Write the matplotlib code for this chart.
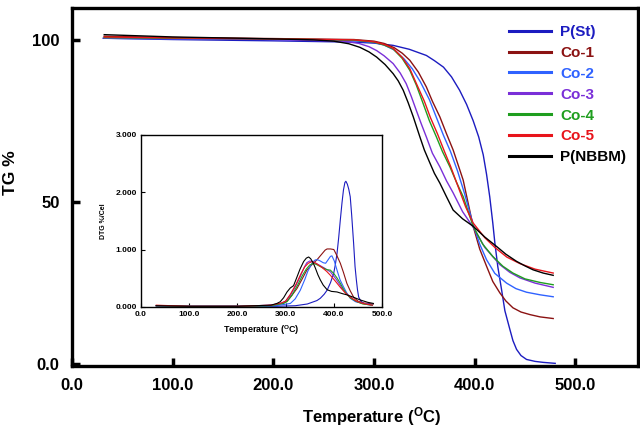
#!/usr/bin/env python3
# -*- coding: utf-8 -*-
"""
TG / DTG curves of P(St), Co-1..Co-5 and P(NBBM)
"""

import matplotlib
matplotlib.use('Agg')
import matplotlib.pyplot as plt
from matplotlib import rcParams

rcParams['font.family'] = ['Liberation Sans', 'DejaVu Sans']
rcParams['font.weight'] = 'bold'
rcParams['mathtext.default'] = 'bf'

# ---- TG data (temperature in C, weight %) ----
names = ['P(St)', 'Co-1', 'Co-2', 'Co-3', 'Co-4', 'Co-5', 'P(NBBM)']
colors = ['#1c1cc0', '#8b1212', '#2f62ff', '#7a2fd8', '#1f9e1f', '#e8141b', '#000000']

tg_t_pst = [31, 100, 200, 280, 300, 319, 335, 352, 360, 369, 377, 385, 392, 398.5,
            404, 408.5, 411.8, 415, 418, 420, 423, 426.7, 430, 435, 438, 441.6, 446,
            451.5, 460, 468, 480]
tg_pst = [100.4, 100.0, 99.6, 99.2, 98.9, 98.2, 97.0, 95.1, 93.5, 91.5, 88.5, 84.4,
          80.0, 75.0, 70.0, 64.5, 58.5, 51.5, 43.5, 37.5, 30.0, 23.0, 16.5, 10.7, 7.3,
          4.6, 2.7, 1.5, 0.9, 0.6, 0.3]

tg_t_co1 = [32, 100, 200, 280, 300, 310, 320, 328, 335.6, 344, 352, 358, 365.4, 372,
            378.6, 384, 388.6, 392, 395, 398.5, 405, 411.8, 418, 425, 431, 438, 446,
            455, 465, 478]
tg_co1 = [101.0, 100.6, 100.3, 100.0, 99.5, 98.8, 97.5, 95.8, 93.6, 90.0, 85.4, 81.0,
          76.2, 71.0, 66.0, 61.0, 56.7, 51.8, 47.5, 42.5, 35.5, 30.2, 25.5, 22.0, 19.5,
          17.4, 16.1, 15.3, 14.6, 14.1]

tg_t_co2 = [32, 100, 200, 280, 300, 310, 320, 330, 338, 346, 355, 362, 369, 376, 383,
            390, 398.5, 405, 411.8, 420, 431.7, 441, 451.5, 465, 478]
tg_co2 = [100.4, 100.2, 100.0, 99.6, 99.1, 98.3, 96.8, 94.0, 91.0, 87.0, 81.5, 76.0,
          70.5, 65.5, 59.5, 52.5, 43.0, 37.0, 32.2, 28.0, 25.0, 23.3, 22.2, 21.4, 20.8]

tg_t_co3 = [32, 100, 200, 270, 285, 295, 302.6, 310, 319, 326, 332, 337, 342, 347,
            352, 358, 365.4, 372, 378.6, 388, 398.5, 410, 425, 435, 445, 460, 478]
tg_co3 = [100.5, 100.3, 100.0, 99.5, 98.8, 97.8, 96.6, 95.0, 92.6, 89.7, 86.4, 82.5,
          78.2, 74.0, 70.0, 65.0, 60.8, 56.5, 52.8, 47.0, 42.2, 36.0, 30.7, 28.3, 26.6,
          25.0, 23.7]

tg_t_co4 = [32, 100, 200, 280, 300, 310, 319, 328, 335.6, 342, 348.8, 355, 362, 368,
            375.4, 382, 388.6, 393, 398.5, 408, 418, 428, 438, 450, 465, 478]
tg_co4 = [100.6, 100.4, 100.2, 99.8, 99.2, 98.3, 97.1, 94.2, 90.5, 86.0, 80.3, 75.0,
          70.0, 65.5, 60.8, 56.0, 51.6, 47.5, 42.5, 37.0, 33.2, 30.2, 28.1, 26.3, 25.2,
          24.5]

tg_t_co5 = [32, 100, 200, 280, 300, 310, 319, 328, 335.6, 342, 350, 356, 363, 370,
            376, 385, 391, 398.5, 410, 420, 432, 445, 460, 478]
tg_co5 = [100.8, 100.5, 100.2, 99.9, 99.3, 98.5, 97.3, 94.5, 91.0, 86.5, 81.0, 76.0,
          71.0, 65.5, 61.0, 53.5, 48.5, 43.5, 39.0, 36.0, 33.0, 31.0, 29.3, 28.1]

tg_t_nbbm = [32, 100, 200, 240, 260, 275, 286, 295, 302.6, 311, 319, 324, 329, 334,
             339, 345.6, 350, 355.5, 360, 365.4, 372, 378.6, 388, 398.5, 410, 421.7,
             431, 441.6, 450, 458, 468, 478]
tg_nbbm = [101.5, 100.8, 100.2, 99.9, 99.5, 98.7, 97.6, 96.2, 94.6, 92.3, 89.5, 87.3,
           84.4, 80.5, 76.2, 70.0, 66.0, 62.0, 58.8, 55.8, 51.6, 47.5, 44.8, 42.5,
           39.2, 36.3, 33.9, 31.7, 30.3, 29.1, 28.1, 27.4]

# ---- DTG data (inset, %/Cel) ----
dtg_t_pst = [32, 100, 200, 280, 320, 345, 365, 372, 380, 386, 393, 399.6, 403, 406.6,
             410, 413.5, 417, 420, 423, 425, 428, 431, 434, 437, 441, 444, 446.7, 449,
             451.5, 456, 462, 470, 480]
dtg_pst = [0.02, 0.01, 0.01, 0.01, 0.02, 0.05, 0.11, 0.15, 0.22, 0.29, 0.42, 0.58,
           0.73, 0.93, 1.20, 1.52, 1.82, 2.04, 2.17, 2.19, 2.14, 2.05, 1.92, 1.60, 1.11,
           0.70, 0.47, 0.30, 0.17, 0.10, 0.06, 0.04, 0.03]

dtg_t_co1 = [32, 100, 200, 260, 280, 295, 303, 313, 323.6, 334, 344, 355, 365, 375,
             382, 386, 393, 400, 406, 413.5, 420, 427, 434, 441, 450, 460, 482]
dtg_co1 = [0.02, 0.01, 0.01, 0.02, 0.04, 0.06, 0.10, 0.20, 0.32, 0.48, 0.64, 0.74,
           0.82, 0.92, 0.99, 1.01, 1.01, 1.00, 0.90, 0.76, 0.60, 0.41, 0.28, 0.17, 0.10,
           0.07, 0.05]

dtg_t_co2 = [32, 100, 200, 280, 310, 320, 330.5, 340, 346, 351, 356, 361.6, 367, 372,
             378, 383, 388, 393, 396, 401, 406.6, 413, 420, 427, 434, 445, 460, 480]
dtg_co2 = [0.02, 0.01, 0.01, 0.02, 0.06, 0.14, 0.29, 0.48, 0.62, 0.70, 0.78, 0.82,
           0.82, 0.80, 0.77, 0.76, 0.82, 0.88, 0.89, 0.80, 0.64, 0.47, 0.35, 0.24, 0.15,
           0.09, 0.06, 0.04]

dtg_t_co3 = [32, 100, 200, 270, 290, 300, 310, 320, 330, 338, 344, 350, 356, 365, 380,
             393, 405, 413, 420, 430, 445, 460, 480]
dtg_co3 = [0.02, 0.01, 0.01, 0.03, 0.06, 0.10, 0.20, 0.35, 0.52, 0.68, 0.77, 0.80,
           0.79, 0.75, 0.68, 0.61, 0.48, 0.38, 0.29, 0.20, 0.10, 0.06, 0.03]

dtg_t_co4 = [32, 100, 200, 270, 295, 303, 313, 325, 335, 343, 350, 358, 366, 375, 385,
             393, 400, 407, 413.5, 420, 427, 435, 448, 460, 480]
dtg_co4 = [0.02, 0.01, 0.01, 0.02, 0.06, 0.09, 0.20, 0.38, 0.55, 0.66, 0.73, 0.76,
           0.73, 0.69, 0.65, 0.64, 0.58, 0.50, 0.41, 0.31, 0.22, 0.15, 0.09, 0.05, 0.03]

dtg_t_co5 = [32, 100, 200, 270, 292, 300, 310, 322, 332, 340, 347, 355, 363, 375, 385,
             393, 403, 413.5, 423, 434, 447, 460, 480]
dtg_co5 = [0.03, 0.01, 0.01, 0.03, 0.07, 0.10, 0.22, 0.40, 0.58, 0.70, 0.76, 0.79,
           0.76, 0.69, 0.62, 0.55, 0.45, 0.34, 0.25, 0.17, 0.10, 0.06, 0.03]

dtg_t_nbbm = [32, 100, 200, 270, 282, 289, 296, 303, 309.8, 316.6, 323.6, 330, 337.4,
              343, 347.8, 352, 357, 361.6, 367, 372, 378, 386, 395, 406.6, 418, 427,
              440, 455, 470, 482]
dtg_nbbm = [0.02, 0.01, 0.01, 0.03, 0.06, 0.09, 0.16, 0.26, 0.33, 0.37, 0.52, 0.66,
            0.79, 0.85, 0.87, 0.84, 0.77, 0.68, 0.56, 0.47, 0.38, 0.30, 0.27, 0.26, 0.23,
            0.21, 0.17, 0.12, 0.08, 0.06]

tg_series = [(tg_t_pst, tg_pst), (tg_t_co1, tg_co1), (tg_t_co2, tg_co2),
             (tg_t_co3, tg_co3), (tg_t_co4, tg_co4), (tg_t_co5, tg_co5),
             (tg_t_nbbm, tg_nbbm)]
dtg_series = [(dtg_t_pst, dtg_pst), (dtg_t_co1, dtg_co1), (dtg_t_co2, dtg_co2),
              (dtg_t_co3, dtg_co3), (dtg_t_co4, dtg_co4), (dtg_t_co5, dtg_co5),
              (dtg_t_nbbm, dtg_nbbm)]

main_xticks = [0, 100, 200, 300, 400, 500]
main_xlabels = ['0.0', '100.0', '200.0', '300.0', '400.0', '500.0']
main_yticks = [0, 50, 100]
main_ylabels = ['0.0', '50', '100']
inset_yticks = [0, 1, 2, 3]
inset_ylabels = ['0.000', '1.000', '2.000', '3.000']

fig = plt.figure(figsize=(6.4, 4.28), dpi=100)
ax = fig.add_axes([0.1125, 0.145, 0.884, 0.837])

for (t, v), name, c in zip(tg_series, names, colors):
    ax.plot(t, v, color=c, linewidth=1.0, label=name)

ax.set_xlim(0, 562)
ax.set_ylim(-0.5, 109.8)
ax.set_xticks(main_xticks)
ax.set_xticklabels(main_xlabels)
ax.set_yticks(main_yticks)
ax.set_yticklabels(main_ylabels)
ax.tick_params(direction='in', length=6, width=2.5, labelsize=12, pad=9)
for lab in ax.get_xticklabels() + ax.get_yticklabels():
    lab.set_fontweight('bold')
for sp in ax.spines.values():
    sp.set_linewidth(2.4)

ax.set_xlabel('Temperature ($\\mathregular{^{O}}$C)', fontsize=12, fontweight='bold')
ax.xaxis.set_label_coords(0.53, -0.108)
ax.set_ylabel('TG %', fontsize=12.5, fontweight='bold')
ax.yaxis.set_label_coords(-0.095, 0.54)

leg = ax.legend(loc='upper left', bbox_to_anchor=(509 / 640, 1 - 25 / 428),
                bbox_transform=fig.transFigure, frameon=False, borderpad=0,
                borderaxespad=0, handlelength=2.75, handletextpad=0.6,
                labelspacing=0.45, prop={'size': 11, 'weight': 'bold'})
for line, c in zip(leg.get_lines(), colors):
    line.set_linewidth(2.2)
for txt, c in zip(leg.get_texts(), colors):
    txt.set_color(c)

# inset DTG
axin = fig.add_axes([0.220, 0.283, 0.377, 0.402])
for (t, v), c in zip(dtg_series, colors):
    axin.plot(t, v, color=c, linewidth=0.8)
axin.set_xlim(0, 500)
axin.set_ylim(0, 3)
axin.set_xticks(main_xticks)
axin.set_xticklabels(main_xlabels)
axin.set_yticks(inset_yticks)
axin.set_yticklabels(inset_ylabels)
axin.tick_params(direction='in', length=3, width=0.8, labelsize=6, pad=3)
for lab in axin.get_xticklabels() + axin.get_yticklabels():
    lab.set_fontweight('bold')
for sp in axin.spines.values():
    sp.set_linewidth(1.0)
axin.set_xlabel('Temperature ($\\mathregular{^{O}}$C)', fontsize=6.5, fontweight='bold',
                labelpad=4)
axin.set_ylabel('DTG %/Cel', fontsize=5, fontweight='bold', labelpad=6)

fig.savefig('out.png', dpi=100)
